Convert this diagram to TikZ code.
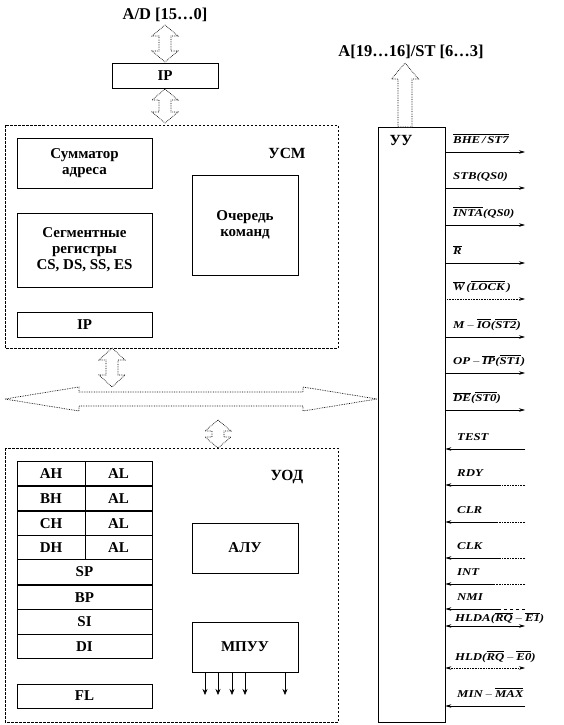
\documentclass[tikz,border=0pt]{standalone}
\usepackage{fontspec}
\setmainfont{Liberation Serif}
\newfontfamily\sigfont[FakeStretch=1.22]{Liberation Serif}
\usetikzlibrary{arrows.meta}
\newcommand{\ol}[1]{$\overline{\mbox{#1}}$}
\newcommand{\mi}{$\,-\,$}
\newcommand{\vda}[4]{% cx, ytop, ybot, headlen
  \draw[blk] (#1,#2) -- ({#1+13},{#2+#4}) -- ({#1+6},{#2+#4}) -- ({#1+6},{#3-#4}) -- ({#1+13},{#3-#4})
    -- (#1,#3) -- ({#1-13},{#3-#4}) -- ({#1-6},{#3-#4}) -- ({#1-6},{#2+#4}) -- ({#1-13},{#2+#4}) -- cycle;}
\tikzset{
  box/.style={draw, line width=0.7pt, inner sep=0pt, align=center, font=\fontsize{15}{16}\selectfont\bfseries},
  grp/.style={draw, dash pattern=on 2.5pt off 1.5pt, line width=0.6pt},
  blk/.style={draw, densely dotted, line width=0.7pt, fill=white},
  lbl/.style={font=\fontsize{15.5}{17}\selectfont\bfseries},
  top/.style={font=\fontsize{16.5}{18}\selectfont\bfseries},
  sig/.style={font=\sigfont\fontsize{10.5}{12}\selectfont\bfseries\itshape, anchor=base west, inner sep=0pt},
  sl/.style={line width=0.6pt},
  tipo/.style={-{Stealth[length=6pt,width=3.5pt]}},
}
\begin{document}
\begin{tikzpicture}[x=1pt,y=-1pt]
\useasboundingbox (0,0) rectangle (563,725);
% top
\node[top] (ad) at (165,15) {A/D [15…0]};
\node[box, minimum width=106, minimum height=25] (ipt) at (165,75.5) {IP};
\vda{165}{25}{62}{11}
\vda{165}{89}{123}{11}
% USM group
\draw[grp] (5,125) rectangle (338,348);
\node[lbl] (usm) at (287,153) {УСМ};
\node[box, minimum width=135, minimum height=50] (sum) at (84.5,163) {Сумматор\\адреса};
\node[box, minimum width=135, minimum height=74] (seg) at (84.5,250) {Сегментные\\регистры\\CS, DS, SS, ES};
\node[box, minimum width=135, minimum height=25] (ip2) at (84.5,324.5) {IP};
\node[box, minimum width=106, minimum height=100] (que) at (245,225) {Очередь\\команд};
% bus
\vda{112}{348}{387}{12}
\vda{218}{420}{448}{11}
\draw[blk] (5,399) -- (79,387) -- (79,392) -- (303,392) -- (303,387) -- (377,399) -- (303,411) -- (303,406) -- (79,406) -- (79,411) -- cycle;
% UOD group
\draw[grp] (5,448) rectangle (338,722);
\node[lbl] (uod) at (287,477) {УОД};
\foreach \a/\b/\y [count=\i] in {AH/AL/473.5, BH/AL/498.5, CH/AL/523.5, DH/AL/547.5}{
  \node[box, minimum width=68, minimum height=24.5] (h\i) at (51,\y) {\a};
  \node[box, minimum width=67, minimum height=24.5] (l\i) at (118.5,\y) {\b};
}
\foreach \t/\y [count=\i] in {SP/572, BP/597.5, SI/622, DI/646.5}{
  \node[box, minimum width=135, minimum height=24.5] (r\i) at (84.5,\y) {\t};
}
\node[box, minimum width=135, minimum height=24] (fl) at (84.5,696) {FL};
\node[box, minimum width=106, minimum height=50] (alu) at (245,548) {АЛУ};
\node[box, minimum width=106, minimum height=50] (mpu) at (245,647) {МПУУ};
\foreach \x [count=\i] in {205,218,232,245,285}{
  \coordinate (m\i) at (\x,695);
  \draw[sl,-{Stealth[length=6pt,width=5pt]}] (mpu.south -| m\i) -- (m\i);
}
% UU
\node[draw, line width=0.7pt, minimum width=67, minimum height=595, inner sep=0pt] (uu) at (411.5,424.5) {};
\node[lbl] (uul) at (401,140) {УУ};
\node[top] (ast) at (411,52) {A[19…16]/ST [6…3]};
\draw[blk] (405,63) -- (418.5,79) -- (412,79) -- (412,127) -- (398,127) -- (398,79) -- (391.5,79) -- cycle;
% outputs
\foreach \y/\t/\st [count=\i] in {
  152/{\ol{BHE\,/\,ST7}}/solid,
  188/{STB(QS0)}/solid,
  225/{\ol{INTA}(QS0)}/solid,
  263/{\ol{R}}/solid,
  299/{\ol{W}\,(\ol{LOCK}\,)}/densely dotted,
  337/{M\mi\ol{IO}(\ol{ST2})}/solid,
  373/{OP\mi\ol{IP}(\ol{ST1})}/solid,
  410/{\ol{DE}(\ol{ST0})}/solid}{
  \coordinate (o\i) at (525,\y);
  \draw[sl,tipo,\st] (uu.east |- o\i) -- (o\i);
  \node[sig] (ol\i) at (453,\y-9) {\t};
}
% inputs
\foreach \y/\t/\m/\st [count=\i] in {
  449/{TEST}/525/solid,
  485/{RDY}/500/densely dotted,
  522/{CLR}/497/densely dotted,
  558/{CLK}/500/densely dotted,
  584/{INT}/495/densely dotted,
  609/{NMI}/500/dashed,
  706/{MIN\mi\ol{MAX}}/525/solid}{
  \coordinate (i\i) at (525,\y);
  \coordinate (j\i) at (\m,\y);
  \draw[sl,\st] (i\i) -- (j\i);
  \draw[sl,tipo] (j\i) -- (uu.east |- i\i);
  \node[sig] (il\i) at (457,\y-9) {\t};
}
% bidirectional
\coordinate (b1) at (525,626);
\draw[sl,{Stealth[length=6pt,width=3.5pt]}-{Stealth[length=6pt,width=3.5pt]}] (uu.east |- b1) -- (b1);
\node[sig] (bl1) at (455,621.5) {HLDA(\ol{RQ}\mi\ol{E1})};
\coordinate (b2) at (525,668);
\draw[sl,densely dotted,{Stealth[length=6pt,width=3.5pt]}-{Stealth[length=6pt,width=3.5pt]}] (uu.east |- b2) -- (b2);
\node[sig] (bl2) at (455,660) {HLD(\ol{RQ}\mi\ol{E0})};
\end{tikzpicture}
\end{document}
